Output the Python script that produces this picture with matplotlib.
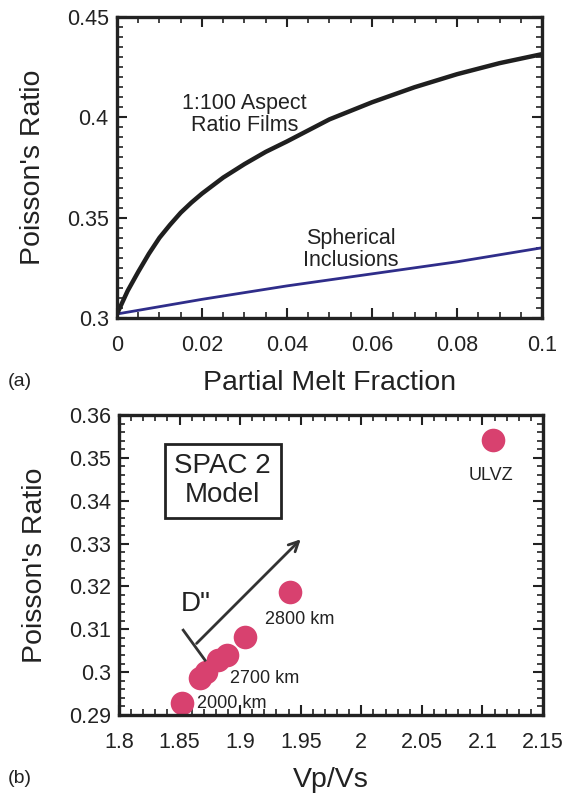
import matplotlib
matplotlib.use("Agg")
import matplotlib.pyplot as plt
from matplotlib.ticker import MultipleLocator, FuncFormatter

plt.rcParams['font.family'] = ['Liberation Sans', 'DejaVu Sans']

# ---- Panel (a) data ----
melt_films = [0, 0.0025, 0.005, 0.0075, 0.01, 0.0125, 0.015, 0.0175, 0.02, 0.025,
              0.03, 0.035, 0.04, 0.045, 0.05, 0.06, 0.07, 0.08, 0.09, 0.1]
pr_films = [0.302, 0.3135, 0.323, 0.332, 0.340, 0.3465, 0.3525, 0.3575, 0.362, 0.370,
            0.3767, 0.3828, 0.388, 0.3935, 0.399, 0.4075, 0.415, 0.4215, 0.427, 0.4315]
melt_sph = [0, 0.02, 0.04, 0.06, 0.08, 0.1]
pr_sph = [0.302, 0.3093, 0.316, 0.322, 0.328, 0.335]

# ---- Panel (b) data ----
vpvs = [1.852, 1.867, 1.872, 1.882, 1.889, 1.904, 1.941, 2.109]
poisson = [0.2927, 0.2986, 0.3001, 0.3028, 0.304, 0.3083, 0.3188, 0.3542]

point_labels = ["2000 km", "2700 km", "2800 km", "ULVZ"]
point_label_xy = [(1.864, 0.2926), (1.8917, 0.2986), (1.9206, 0.3122), (2.107, 0.3458)]

TXT = '#222222'
AX = '#222222'
fig = plt.figure(figsize=(5.8, 7.95), dpi=100)

def style(ax, xmaj, xmin, ymaj, ymin):
    for s in ax.spines.values():
        s.set_linewidth(2.4)
        s.set_color(AX)
    ax.xaxis.set_major_locator(MultipleLocator(xmaj))
    ax.xaxis.set_minor_locator(MultipleLocator(xmin))
    ax.yaxis.set_major_locator(MultipleLocator(ymaj))
    ax.yaxis.set_minor_locator(MultipleLocator(ymin))
    fmt = FuncFormatter(lambda v, p: ('%g' % round(v, 6)))
    ax.xaxis.set_major_formatter(fmt)
    ax.yaxis.set_major_formatter(fmt)
    ax.tick_params(which='both', direction='in', top=True, right=True,
                   color=AX, labelsize=15.5, labelcolor=TXT)
    ax.tick_params(which='major', length=7, width=1.5)
    ax.tick_params(which='minor', length=4, width=1.2)
    ax.tick_params(axis='x', which='major', pad=12)
    ax.tick_params(axis='y', which='major', pad=6)

# ---- (a) ----
ax1 = fig.add_axes([0.2017, 0.600, 0.7328, 0.3786])
ax1.plot(melt_sph, pr_sph, color='#2f2d8a', lw=2.0, solid_capstyle='butt')
ax1.plot(melt_films, pr_films, color='#1f1f1f', lw=3.2, solid_capstyle='butt')
ax1.set_xlim(0, 0.1)
ax1.set_ylim(0.3, 0.45)
style(ax1, 0.02, 0.005, 0.05, 0.005)
ax1.set_xlabel('Partial Melt Fraction', fontsize=20.5, color=TXT, labelpad=10)
ax1.set_ylabel("Poisson's Ratio", fontsize=20.5, color=TXT, labelpad=15)
ax1.text(0.030, 0.4015, '1:100 Aspect\nRatio Films', ha='center', va='center',
         fontsize=15.5, color=TXT, linespacing=1.05)
ax1.text(0.055, 0.334, 'Spherical\nInclusions', ha='center', va='center',
         fontsize=15.5, color=TXT, linespacing=1.05)
fig.text(0.014, 0.520, '(a)', fontsize=14, color=TXT, va='center')

# ---- (b) ----
ax2 = fig.add_axes([0.2052, 0.1006, 0.731, 0.3774])
ax2.plot(vpvs, poisson, 'o', color='#d8416f', markersize=17, markeredgewidth=0)
ax2.set_xlim(1.8, 2.15)
ax2.set_ylim(0.29, 0.36)
style(ax2, 0.05, 0.01, 0.01, 0.002)
ax2.set_xlabel('Vp/Vs', fontsize=20.5, color=TXT, labelpad=10)
ax2.set_ylabel("Poisson's Ratio", fontsize=20.5, color=TXT, labelpad=15)

for lab, (lx, ly) in zip(point_labels, point_label_xy):
    if lab == 'ULVZ':
        ax2.text(lx, ly, lab, ha='center', va='center', fontsize=13, color=TXT)
    else:
        ax2.text(lx, ly, lab, ha='left', va='center', fontsize=13, color=TXT)

ax2.text(1.8855, 0.3446, 'SPAC 2\nModel', ha='center', va='center', fontsize=20,
         color=TXT, linespacing=1.15,
         bbox=dict(boxstyle='square,pad=0.35', fc='white', ec=AX, lw=2.0))
ax2.text(1.863, 0.316, 'D"', ha='center', va='center', fontsize=20, color=TXT)

arrow_start = (1.864, 0.3067)
arrow_tip = (1.95, 0.3310)
bar_a = (1.853, 0.3098)
bar_b = (1.871, 0.3028)
ax2.annotate('', xy=arrow_tip, xytext=arrow_start,
             arrowprops=dict(arrowstyle='->,head_length=0.7,head_width=0.35',
                             color='#333333', lw=2.0, shrinkA=0, shrinkB=0))
ax2.plot([bar_a[0], bar_b[0]], [bar_a[1], bar_b[1]], color='#333333', lw=2.0)
fig.text(0.014, 0.021, '(b)', fontsize=14, color=TXT, va='center')

fig.savefig('out.png', dpi=100)
